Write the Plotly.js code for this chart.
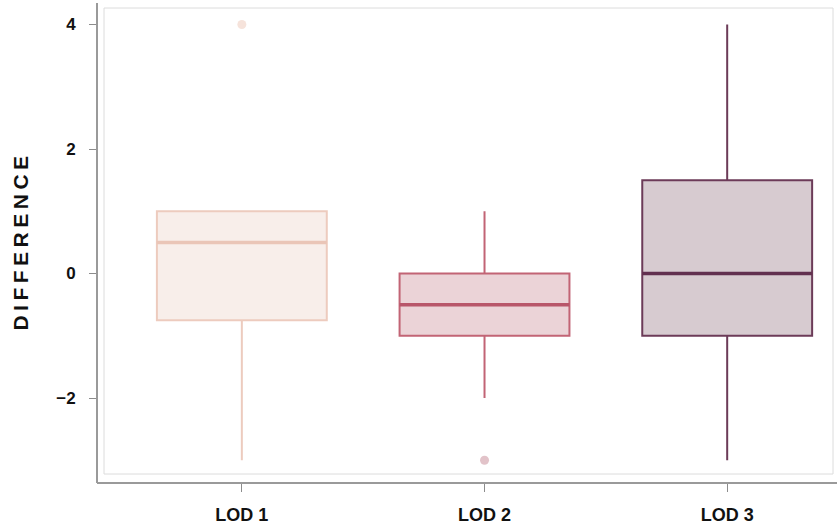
<!DOCTYPE html>
<html>
<head>
<meta charset="utf-8">
<script src="https://cdn.plot.ly/plotly-3.0.1.min.js"></script>
<style>
html,body{margin:0;padding:0;background:#fff;}
#chart{width:837px;height:526px;}
.ytitle{letter-spacing:4.5px;}
</style>
</head>
<body>
<div id="chart"></div>
<script>
// ---- data ----
const categories = ['LOD 1', 'LOD 2', 'LOD 3'];
const q1Values = [-0.75, -1, -1];
const medianValues = [0.5, -0.5, 0];
const q3Values = [1, 0, 1.5];
const lowerFenceValues = [-3, -2, -3];
const upperFenceValues = [1, 1, 4];
const outlierValues = [[4], [-3], []];
const yTickValues = [-2, 0, 2, 4];
const yTickLabels = ['\u22122', '0', '2', '4'];

// ---- styles ----
const lineColors = ['#EDCBBE', '#C26475', '#6C3B58'];
const medianColors = ['#EAC5B7', '#B8566A', '#62304F'];
const fillColors = ['#F8EEEA', '#EBD3D7', '#D7CBD0'];
const outlierColors = ['#F6E3DB', '#E2C3C9', '#B89AAA'];

const traces = [];
categories.forEach((cat, i) => {
  traces.push({
    type: 'box',
    x: [cat],
    q1: [q1Values[i]],
    median: [medianValues[i]],
    q3: [q3Values[i]],
    lowerfence: [lowerFenceValues[i]],
    upperfence: [upperFenceValues[i]],
    width: 0.7,
    fillcolor: fillColors[i],
    line: {color: lineColors[i], width: 2},
    whiskerwidth: 0,
    boxpoints: false,
    hoverinfo: 'skip',
    showlegend: false
  });
});
// thicker median strokes, drawn as flat boxes at each median
categories.forEach((cat, i) => {
  traces.push({
    type: 'box',
    x: [cat],
    q1: [medianValues[i]],
    median: [medianValues[i]],
    q3: [medianValues[i]],
    lowerfence: [medianValues[i]],
    upperfence: [medianValues[i]],
    width: 0.7,
    fillcolor: 'rgba(0,0,0,0)',
    line: {color: medianColors[i], width: 3.5},
    whiskerwidth: 0,
    boxpoints: false,
    hoverinfo: 'skip',
    showlegend: false
  });
});
categories.forEach((cat, i) => {
  if (outlierValues[i].length) {
    traces.push({
      type: 'scatter',
      mode: 'markers',
      x: outlierValues[i].map(() => cat),
      y: outlierValues[i],
      marker: {color: outlierColors[i], size: 9},
      hoverinfo: 'skip',
      showlegend: false
    });
  }
});

const W = 837, H = 526;
const ml = 97, mr = 4, mt = 8, mb = 43;
const pw = W - ml - mr, ph = H - mt - mb;

const layout = {
  width: W, height: H,
  margin: {l: ml, r: mr, t: mt, b: mb, pad: 0},
  paper_bgcolor: '#ffffff',
  plot_bgcolor: '#ffffff',
  boxmode: 'overlay',
  font: {family: '"Liberation Sans", Arial, sans-serif', color: '#111111'},
  xaxis: {
    type: 'category',
    categoryarray: categories,
    range: [-0.568, 2.436],
    domain: [(104 - ml) / pw, 1],
    anchor: 'free',
    position: 0,
    showgrid: false,
    zeroline: false,
    showline: false,
    ticks: 'outside',
    ticklen: 8,
    tickwidth: 1,
    tickcolor: '#8c8c8c',
    ticklabelstandoff: 7,
    tickfont: {size: 18, weight: 'bold', color: '#111111'}
  },
  yaxis: {
    range: [-3.22, 4.265],
    domain: [(483 - 474) / ph, 1],
    anchor: 'free',
    position: 0,
    showgrid: false,
    zeroline: false,
    showline: false,
    ticks: 'outside',
    ticklen: 8,
    tickwidth: 1,
    tickcolor: '#8c8c8c',
    tickvals: yTickValues,
    ticktext: yTickLabels,
    ticklabelstandoff: 10,
    tickfont: {size: 17, weight: 'bold', color: '#111111'},
    title: {text: 'DIFFERENCE', standoff: 20, font: {size: 21, weight: 'bold', color: '#111111'}}
  },
  shapes: [
    {type: 'rect', xref: 'x domain', yref: 'y domain', x0: 0, x1: 1, y0: 0, y1: 1,
     line: {color: '#dcdcdc', width: 1}, fillcolor: 'rgba(0,0,0,0)', layer: 'below'},
    {type: 'line', xref: 'paper', yref: 'paper', x0: 0, x1: 0, y0: 0, y1: (H - mb - 3) / ph,
     line: {color: '#9a9a9a', width: 2}},
    {type: 'line', xref: 'paper', yref: 'paper', x0: 0, x1: (W - ml) / pw, y0: 0, y1: 0,
     line: {color: '#9a9a9a', width: 2}}
  ]
};

Plotly.newPlot('chart', traces, layout, {staticPlot: true, displayModeBar: false});
</script>
</body>
</html>
